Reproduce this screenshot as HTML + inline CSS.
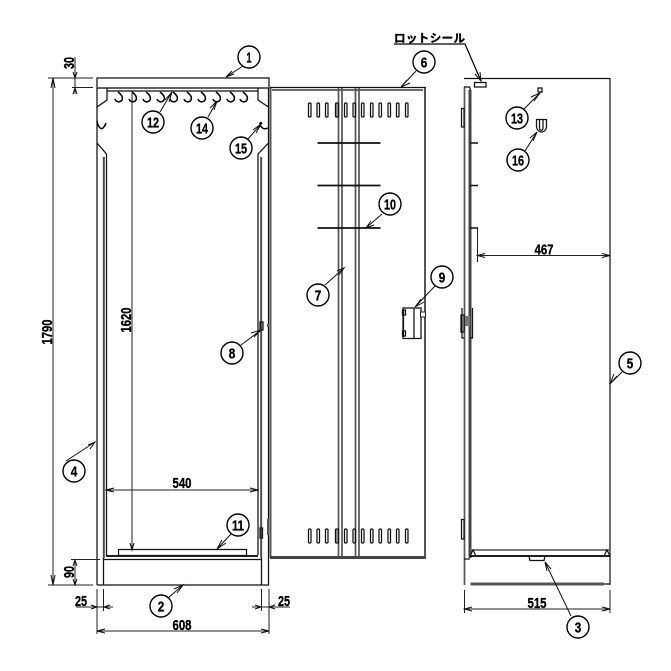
<!DOCTYPE html>
<html><head><meta charset="utf-8"><style>
html,body{margin:0;padding:0;background:#fff}
svg{display:block}
text{font-family:"Liberation Sans","Noto Sans CJK JP",sans-serif;font-weight:bold;fill:#000;stroke:#000;stroke-width:.35}
.l{stroke:#111;stroke-width:1.25;fill:none}
.g{stroke:#555;stroke-width:1.7;fill:none}
.t{stroke:#000;stroke-width:1.8;fill:none}
.d{stroke:#222;stroke-width:1;fill:none}
.c{fill:#fff;stroke:#000;stroke-width:1.4}
.a{fill:none;stroke:#111;stroke-width:1}
</style></head><body>
<svg width="671" height="671" viewBox="0 0 671 671" xmlns="http://www.w3.org/2000/svg">
<!-- Left body -->
<path class="l" d="M97 78H269V88H97Z"/>
<path class="g" d="M97 88H269"/>
<path class="l" d="M97 88V107L107 100V88M107 91H258M258 88V100L268.500 107V88"/>
<path class="l" d="M97 107V143L106.500 154V555M268.500 107V143L258 154V555"/>
<path class="l" d="M97 143V585M268.500 143V585M103.500 157V585M261.500 157V585"/>
<path class="g" d="M104 157V558M261 157V558"/>
<path class="l" d="M97 585H269M103.500 559.500H261.500"/>
<path class="t" d="M106 556H258"/>
<!-- Shelf rail hooks -->
<g class="t" style="stroke-width:1.5">
<path d="M118 92C122 95 123 98 122 100C120 103 116 102 115 99"/>
<path d="M132 92C136 95 137 98 136 100C134 103 130 102 129 99"/>
<path d="M146 92C150 95 151 98 150 100C148 103 144 102 143 99"/>
<path d="M160 92C164 95 165 98 164 100C162 103 158 102 157 99"/>
<path d="M173 92C177 95 178 98 177 100C175 103 171 102 170 99"/>
<path d="M187 92C191 95 192 98 191 100C189 103 185 102 184 99"/>
<path d="M201 92C205 95 206 98 205 100C203 103 199 102 198 99"/>
<path d="M216 92C220 95 221 98 220 100C218 103 214 102 213 99"/>
<path d="M230 92C234 95 235 98 234 100C232 103 228 102 227 99"/>
<path d="M243 92C247 95 248 98 247 100C245 103 241 102 240 99"/>
<path d="M97 121C98 127 101 130 103 128C105 126 106 123 106 123"/>
<path d="M268 128C264 130 261 128 260 124C260 122 261 122 262 124"/>
</g>
<!-- Tray item 11 -->
<path class="l" d="M118.500 549.500H246.500V555.500H118.500Z"/>
<!-- Hinges left -->
<path class="l" d="M260 330H263V322H260ZM260 538V528H262.500V538Z"/>
<path class="g" d="M268 324V327M268 519V535" style="stroke-width:2"/>
<!-- Door -->
<path class="g" d="M270.500 88V558M425 88V558" style="stroke-width:2"/>
<path class="l" d="M270 87.500H426M272 90H423" />
<path class="g" d="M338.500 88V557M342 88V557M355.500 88V557M359 88V557"/>
<path d="M270 557.500H426" stroke="#444" stroke-width="3"/>
<g class="l">
<rect x="308.500" y="103" width="2.500" height="14" rx="1"/><rect x="317" y="103" width="2.500" height="14" rx="1"/><rect x="325.500" y="103" width="2.500" height="14" rx="1"/><rect x="335.500" y="103" width="3" height="14" rx="1" fill="#999"/><rect x="344.500" y="103" width="2.500" height="14" rx="1"/><rect x="353" y="103" width="2.500" height="14" rx="1"/><rect x="361.500" y="103" width="2.500" height="14" rx="1"/><rect x="370.500" y="103" width="2.500" height="14" rx="1"/><rect x="379" y="103" width="2.500" height="14" rx="1"/><rect x="388" y="103" width="2.500" height="14" rx="1"/><rect x="396.500" y="103" width="2.500" height="14" rx="1"/><rect x="405.500" y="103" width="2.500" height="14" rx="1"/>
<rect x="308.500" y="529" width="2.500" height="14" rx="1"/><rect x="317" y="529" width="2.500" height="14" rx="1"/><rect x="325.500" y="529" width="2.500" height="14" rx="1"/><rect x="335.500" y="529" width="3" height="14" rx="1" fill="#999"/><rect x="344.500" y="529" width="2.500" height="14" rx="1"/><rect x="353" y="529" width="2.500" height="14" rx="1"/><rect x="361.500" y="529" width="2.500" height="14" rx="1"/><rect x="370.500" y="529" width="2.500" height="14" rx="1"/><rect x="379" y="529" width="2.500" height="14" rx="1"/><rect x="388" y="529" width="2.500" height="14" rx="1"/><rect x="396.500" y="529" width="2.500" height="14" rx="1"/><rect x="405.500" y="529" width="2.500" height="14" rx="1"/>
</g>
<path d="M317.500 143H380.500M317.500 185.500H380.500M317.500 228H380.500" stroke="#111" stroke-width="1.800"/>
<!-- Lock 9 -->
<path class="l" d="M403 308H421V338.500H403ZM414 308V338M403.500 310V337"/>
<rect class="l" x="402.500" y="310" width="3" height="5" fill="#fff"/><rect class="l" x="402.500" y="331" width="3" height="5" fill="#fff"/><rect x="420.500" y="312" width="5" height="5" fill="#fff" stroke="#222"/>
<!-- Side view -->
<path class="g" d="M464.500 87V585M610 78V585"/>
<path class="l" d="M464 78.500H610M464 87H469.500L470.500 90V557"/>
<path d="M470 90V558" stroke="#444" stroke-width="3"/>
<path d="M470 143H478M470 185.500H478M470 228H478" stroke="#111" stroke-width="1.500"/>
<path class="l" d="M461.500 108.500H464V127H461.500ZM461.500 519.500H464V539H461.500ZM462 308V338H464M472.500 308V338H470M461 315H464V332H461Z"/>
<rect x="465" y="316" width="5" height="10" fill="#777"/>
<path d="M470 550H610" stroke="#666" stroke-width="1.800"/><path d="M470 556H610" stroke="#000" stroke-width="1.800"/>
<path class="l" d="M470 556L473 550L476 556M610 556L607 550L604 556M464 559H470M529 556L530 560.500H544L545 556"/>
<path d="M470.500 584H604" stroke="#555" stroke-width="3"/>
<path class="l" d="M604 584H610"/>
<rect class="l" x="474.500" y="82.500" width="11.500" height="4.500"/>
<path class="l" d="M538 88H542V92H538ZM536.500 119.500H546.500V126C546.500 134 536.500 134 536.500 126ZM539.500 120V128C539.500 131 543 131 543 128V120"/>
<!-- Dimensions -->
<path class="d" d="M48 78H93M48 585H93M53 78V585M75 57V94M72 87.500H93M75 559.500V585M71 559.500H100"/>
<path class="a" d="M51 88L53 78L55 88M51 575L53 585L55 575M73 72L75 78L77 72M73 94L75 88L77 94M73 566L75 560L77 566M73 579L75 585L77 579"/>
<path class="d" d="M132 91V550M105 490H259M97 589V634M269 589V634M103.500 589V611M261.500 589V611M97 631H269M76 607H113M252 607H290"/>
<path class="a" d="M130 543L132 550L134 543M114 488L106 490L114 492M250 488L258 490L250 492M105 629L97 631L105 633M261 629L269 631L261 633M91 605L97 607L91 609M110 605L104 607L110 609M255 605L261 607L255 609M275 605L269 607L275 609"/>
<path class="d" d="M477.500 227V262M477 255.500H610M464.500 590V613M610 590V613M464 609H610"/>
<path class="a" d="M485 253.500L477.500 255.500L485 257.500M602 253.500L610 255.500L602 257.500M472 607L464.500 609L472 611M602 607L610 609L602 611"/>
<path d="M394 44H465L481 81" stroke="#000" stroke-width="1.200" fill="none"/>
<path class="a" d="M475 74L481 81L480 72"/>
<!-- Leaders -->
<g class="a">
<path d="M243 66L226 77M232 71L226 77L234 74"/>
<path d="M160 112L172 92M165 100L172 92L169 102"/>
<path d="M208 117L217 101M210 108L217 101L214 110"/>
<path d="M248 139L261 124M253 130L261 124L256 133"/>
<path d="M416 71L401 87M407 80L401 87L410 83"/>
<path d="M382 214L366 228M371 221L366 228L374 225"/>
<path d="M524 109L540 93M531 97L540 93L534 101"/>
<path d="M525 151L537 132M530 138L537 132L533 141"/>
<path d="M66 461L95 442M88 445L95 442L90 449"/>
<path d="M231 534L217 549M222 540L217 549L226 543"/>
<path d="M168 598L183 585M174 589L183 585L177 593"/>
<path d="M571 616L545 562M547 571L545 562L551 569"/>
<path d="M325 285L344 268M337 271L344 268L339 275"/>
<path d="M241 345L261 330M251 333L261 330L254 337"/>
<path d="M435 286L415 307M421 299L415 307L424 302"/>
<path d="M622 372L610 384M617 376L610 384L614 374"/>
</g>
<!-- Balloons -->
<g>
<circle class="c" cx="249" cy="57" r="11"/><circle class="c" cx="153" cy="122" r="11"/><circle class="c" cx="202" cy="128" r="11"/><circle class="c" cx="241" cy="148" r="11"/><circle class="c" cx="424" cy="62" r="11"/><circle class="c" cx="390" cy="204" r="11"/><circle class="c" cx="517" cy="118" r="11"/><circle class="c" cx="518" cy="160" r="11"/><circle class="c" cx="74" cy="471" r="11"/><circle class="c" cx="238" cy="525" r="11"/><circle class="c" cx="161" cy="606" r="11"/><circle class="c" cx="578" cy="627" r="11"/><circle class="c" cx="318" cy="295" r="11"/><circle class="c" cx="232" cy="353" r="11"/><circle class="c" cx="442" cy="277" r="11"/><circle class="c" cx="630" cy="363" r="11"/>
</g>
<g text-anchor="middle" font-size="15">
<text x="249" y="62.500" textLength="5" lengthAdjust="spacingAndGlyphs">1</text>
<text x="153" y="127.500" textLength="12" lengthAdjust="spacingAndGlyphs">12</text>
<text x="202" y="133.500" textLength="12" lengthAdjust="spacingAndGlyphs">14</text>
<text x="241" y="153.500" textLength="12" lengthAdjust="spacingAndGlyphs">15</text>
<text x="424" y="67.500" textLength="6.500" lengthAdjust="spacingAndGlyphs">6</text>
<text x="390" y="209.500" textLength="12" lengthAdjust="spacingAndGlyphs">10</text>
<text x="517" y="123.500" textLength="12" lengthAdjust="spacingAndGlyphs">13</text>
<text x="518" y="165.500" textLength="12" lengthAdjust="spacingAndGlyphs">16</text>
<text x="74" y="476.500" textLength="6.500" lengthAdjust="spacingAndGlyphs">4</text>
<text x="238" y="530.500" textLength="12" lengthAdjust="spacingAndGlyphs">11</text>
<text x="161" y="611.500" textLength="6.500" lengthAdjust="spacingAndGlyphs">2</text>
<text x="578" y="632.500" textLength="6.500" lengthAdjust="spacingAndGlyphs">3</text>
<text x="318" y="300.500" textLength="6.500" lengthAdjust="spacingAndGlyphs">7</text>
<text x="232" y="358.500" textLength="6.500" lengthAdjust="spacingAndGlyphs">8</text>
<text x="442" y="282.500" textLength="6.500" lengthAdjust="spacingAndGlyphs">9</text>
<text x="630" y="368.500" textLength="6.500" lengthAdjust="spacingAndGlyphs">5</text>
</g>
<!-- Dimension labels -->
<g font-size="15" text-anchor="middle">
<text x="182" y="488" textLength="19" lengthAdjust="spacingAndGlyphs">540</text>
<text x="182" y="630" textLength="19" lengthAdjust="spacingAndGlyphs">608</text>
<text x="81" y="606" textLength="12" lengthAdjust="spacingAndGlyphs">25</text>
<text x="284" y="606" textLength="12" lengthAdjust="spacingAndGlyphs">25</text>
<text x="537" y="608" textLength="19" lengthAdjust="spacingAndGlyphs">515</text>
<text x="544" y="254.500" textLength="19" lengthAdjust="spacingAndGlyphs">467</text>
<text transform="translate(74,63) rotate(-90)" textLength="12" lengthAdjust="spacingAndGlyphs">30</text>
<text transform="translate(74,572) rotate(-90)" textLength="12" lengthAdjust="spacingAndGlyphs">90</text>
<text transform="translate(52,332) rotate(-90)" textLength="25" lengthAdjust="spacingAndGlyphs">1790</text>
<text transform="translate(131,320) rotate(-90)" textLength="25" lengthAdjust="spacingAndGlyphs">1620</text>
</g>
<text x="394" y="42" font-size="11.500" textLength="71" lengthAdjust="spacing">ロットシール</text>
</svg>
</body></html>
